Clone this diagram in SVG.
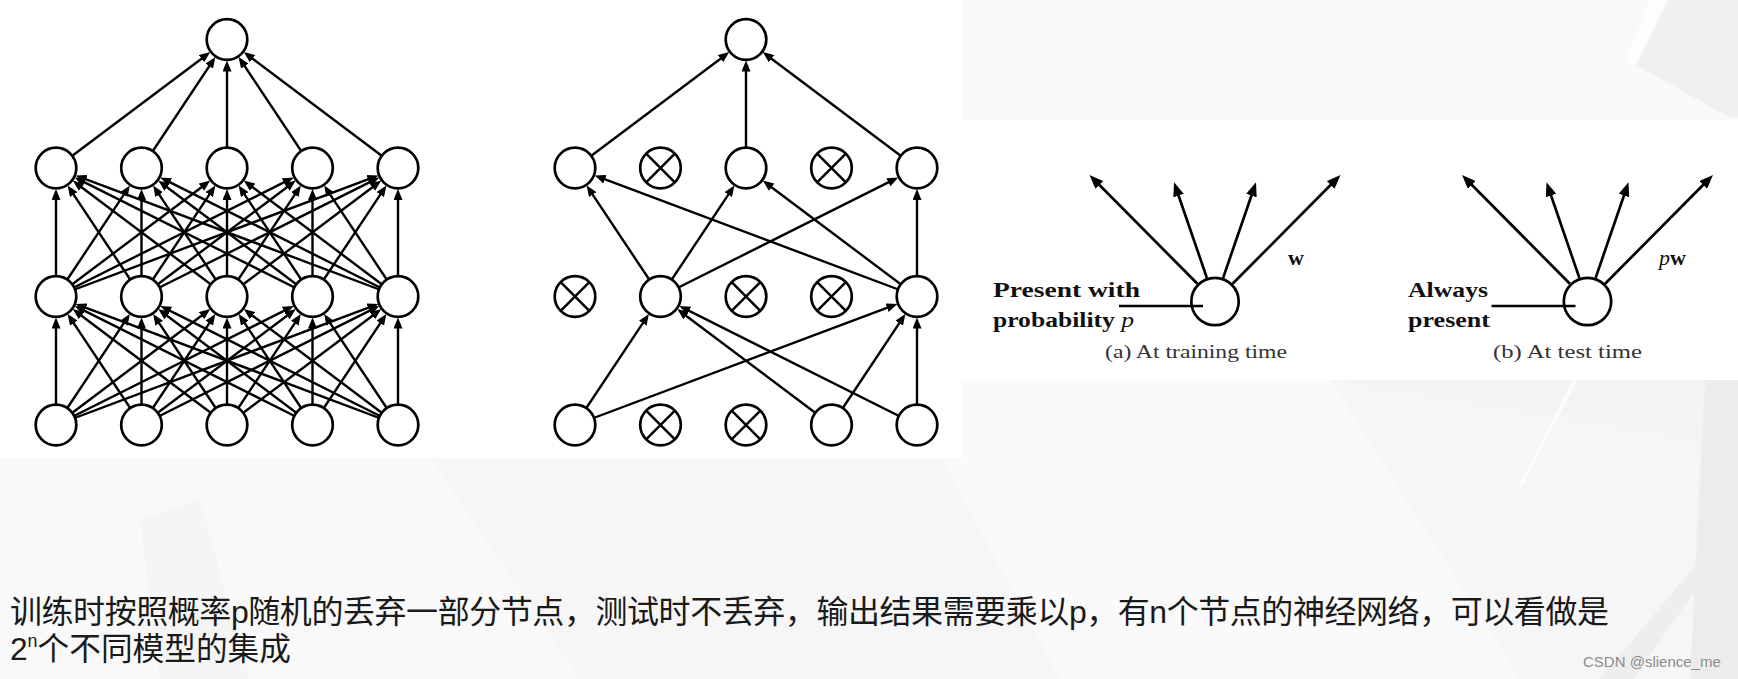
<svg xmlns="http://www.w3.org/2000/svg" width="1738" height="679" viewBox="0 0 1738 679">
<style>
.n{fill:#fff;stroke:#000;stroke-width:2.7}
.pc{fill:none;stroke:#000;stroke-width:2.7}
.x{stroke:#000;stroke-width:2.5}
.e{stroke:#000;stroke-width:2.4;marker-end:url(#ah)}
.pa{stroke:#000;stroke-width:2.7;marker-end:url(#ahb)}
.pl{stroke:#000;stroke-width:2.7}
.bd{font-family:'Liberation Serif',serif;font-weight:bold;font-size:22px;fill:#111}
.it{font-style:italic;font-weight:normal}
.cap{font-family:'Liberation Serif',serif;font-size:18.5px;fill:#333}
.zh{font-family:'Liberation Sans','Noto Sans CJK SC',sans-serif;font-size:32px;fill:#1a1a1a}
.wm{font-family:'Liberation Sans',sans-serif;font-size:15px;fill:#8c8c8c}
</style>
<defs>
<marker id="ah" markerUnits="userSpaceOnUse" markerWidth="11" markerHeight="9" viewBox="0 0 11 9" refX="5.5" refY="4.5" orient="auto"><path d="M0,0 L11,4.5 L0,9 z" fill="#000"/></marker>
<marker id="ahb" markerUnits="userSpaceOnUse" markerWidth="14" markerHeight="11" viewBox="0 0 14 11" refX="8" refY="5.5" orient="auto"><path d="M0,0 L14,5.5 L0,11 z" fill="#000"/></marker>
</defs>

<g id="background">
<rect width="1738" height="679" fill="#f6f6f6"/>
<polygon points="0,458 430,458 580,679 0,679" fill="#f9f9f9"/>
<polygon points="140,520 200,500 250,679 160,679" fill="#f5f5f5"/>
<polygon points="900,380 1330,380 1520,679 1060,679" fill="#fafafa"/>
<polygon points="1330,380 1738,380 1738,679 1690,679 1700,440" fill="#f4f4f4"/>
<polygon points="1705,380 1738,380 1738,679 1690,679" fill="#ececec"/>
<polygon points="1573,380 1577,380 1522,487 1518,487" fill="#fdfdfd"/>
<polygon points="1600,679 1700,560 1716,560 1634,679" fill="#eeeeee"/>
<rect x="962" y="0" width="776" height="120" fill="#f9f9f9"/>
<polygon points="1668,0 1738,0 1738,117 1729,117 1636,65" fill="#f0f0f0"/>
<polygon points="1650,0 1668,0 1636,65 1625,60" fill="#fdfdfd"/>
<rect x="0" y="0" width="962" height="458" fill="#fff"/>
<rect x="962" y="120" width="776" height="260" fill="#fff"/>
</g>

<g id="connectors">
<!-- network 1: input -> hidden1 -->
<line class="e" x1="56" y1="425" x2="56" y2="323"/>
<line class="e" x1="141.5" y1="425" x2="70.68" y2="318.56"/>
<line class="e" x1="227" y1="425" x2="77.18" y2="312.42"/>
<line class="e" x1="312.5" y1="425" x2="79.69" y2="308.37"/>
<line class="e" x1="398" y1="425" x2="80.81" y2="305.82"/>
<line class="e" x1="56" y1="425" x2="126.82" y2="318.56"/>
<line class="e" x1="141.5" y1="425" x2="141.5" y2="323"/>
<line class="e" x1="227" y1="425" x2="156.18" y2="318.56"/>
<line class="e" x1="312.5" y1="425" x2="162.68" y2="312.42"/>
<line class="e" x1="398" y1="425" x2="165.19" y2="308.37"/>
<line class="e" x1="56" y1="425" x2="205.82" y2="312.42"/>
<line class="e" x1="141.5" y1="425" x2="212.32" y2="318.56"/>
<line class="e" x1="227" y1="425" x2="227" y2="323"/>
<line class="e" x1="312.5" y1="425" x2="241.68" y2="318.56"/>
<line class="e" x1="398" y1="425" x2="248.18" y2="312.42"/>
<line class="e" x1="56" y1="425" x2="288.81" y2="308.37"/>
<line class="e" x1="141.5" y1="425" x2="291.32" y2="312.42"/>
<line class="e" x1="227" y1="425" x2="297.82" y2="318.56"/>
<line class="e" x1="312.5" y1="425" x2="312.5" y2="323"/>
<line class="e" x1="398" y1="425" x2="327.18" y2="318.56"/>
<line class="e" x1="56" y1="425" x2="373.19" y2="305.82"/>
<line class="e" x1="141.5" y1="425" x2="374.31" y2="308.37"/>
<line class="e" x1="227" y1="425" x2="376.82" y2="312.42"/>
<line class="e" x1="312.5" y1="425" x2="383.32" y2="318.56"/>
<line class="e" x1="398" y1="425" x2="398" y2="323"/>
<!-- network 1: hidden1 -> hidden2 -->
<line class="e" x1="56" y1="296.5" x2="56" y2="194.5"/>
<line class="e" x1="141.5" y1="296.5" x2="70.68" y2="190.06"/>
<line class="e" x1="227" y1="296.5" x2="77.18" y2="183.92"/>
<line class="e" x1="312.5" y1="296.5" x2="79.69" y2="179.87"/>
<line class="e" x1="398" y1="296.5" x2="80.81" y2="177.32"/>
<line class="e" x1="56" y1="296.5" x2="126.82" y2="190.06"/>
<line class="e" x1="141.5" y1="296.5" x2="141.5" y2="194.5"/>
<line class="e" x1="227" y1="296.5" x2="156.18" y2="190.06"/>
<line class="e" x1="312.5" y1="296.5" x2="162.68" y2="183.92"/>
<line class="e" x1="398" y1="296.5" x2="165.19" y2="179.87"/>
<line class="e" x1="56" y1="296.5" x2="205.82" y2="183.92"/>
<line class="e" x1="141.5" y1="296.5" x2="212.32" y2="190.06"/>
<line class="e" x1="227" y1="296.5" x2="227" y2="194.5"/>
<line class="e" x1="312.5" y1="296.5" x2="241.68" y2="190.06"/>
<line class="e" x1="398" y1="296.5" x2="248.18" y2="183.92"/>
<line class="e" x1="56" y1="296.5" x2="288.81" y2="179.87"/>
<line class="e" x1="141.5" y1="296.5" x2="291.32" y2="183.92"/>
<line class="e" x1="227" y1="296.5" x2="297.82" y2="190.06"/>
<line class="e" x1="312.5" y1="296.5" x2="312.5" y2="194.5"/>
<line class="e" x1="398" y1="296.5" x2="327.18" y2="190.06"/>
<line class="e" x1="56" y1="296.5" x2="373.19" y2="177.32"/>
<line class="e" x1="141.5" y1="296.5" x2="374.31" y2="179.87"/>
<line class="e" x1="227" y1="296.5" x2="376.82" y2="183.92"/>
<line class="e" x1="312.5" y1="296.5" x2="383.32" y2="190.06"/>
<line class="e" x1="398" y1="296.5" x2="398" y2="194.5"/>
<!-- network 1: hidden2 -> output -->
<line class="e" x1="56" y1="168" x2="205.82" y2="55.42"/>
<line class="e" x1="141.5" y1="168" x2="212.32" y2="61.56"/>
<line class="e" x1="227" y1="168" x2="227" y2="66"/>
<line class="e" x1="312.5" y1="168" x2="241.68" y2="61.56"/>
<line class="e" x1="398" y1="168" x2="248.18" y2="55.42"/>
<!-- network 2 (dropout) -->
<line class="e" x1="575" y1="168" x2="724.82" y2="55.42"/>
<line class="e" x1="746" y1="168" x2="746" y2="66"/>
<line class="e" x1="917" y1="168" x2="767.18" y2="55.42"/>
<line class="e" x1="660.5" y1="296.5" x2="589.68" y2="190.06"/>
<line class="e" x1="660.5" y1="296.5" x2="731.32" y2="190.06"/>
<line class="e" x1="660.5" y1="296.5" x2="893.31" y2="179.87"/>
<line class="e" x1="917" y1="296.5" x2="599.81" y2="177.32"/>
<line class="e" x1="917" y1="296.5" x2="767.18" y2="183.92"/>
<line class="e" x1="917" y1="296.5" x2="917" y2="194.5"/>
<line class="e" x1="575" y1="425" x2="645.82" y2="318.56"/>
<line class="e" x1="575" y1="425" x2="892.19" y2="305.82"/>
<line class="e" x1="831.5" y1="425" x2="681.68" y2="312.42"/>
<line class="e" x1="831.5" y1="425" x2="902.32" y2="318.56"/>
<line class="e" x1="917" y1="425" x2="684.19" y2="308.37"/>
<line class="e" x1="917" y1="425" x2="917" y2="323"/>
<!-- panel (a) -->
<line class="pa" x1="1197.39" y1="283.75" x2="1093.73" y2="179.26"/>
<line class="pa" x1="1206.87" y1="277.86" x2="1175.95" y2="187.97"/>
<line class="pa" x1="1223.13" y1="277.86" x2="1254.05" y2="187.97"/>
<line class="pa" x1="1232.61" y1="283.75" x2="1336.27" y2="179.26"/>
<line class="pl" x1="1119" y1="306" x2="1203" y2="306"/>
<!-- panel (b) -->
<line class="pa" x1="1569.89" y1="283.75" x2="1466.23" y2="179.26"/>
<line class="pa" x1="1579.37" y1="277.86" x2="1548.45" y2="187.97"/>
<line class="pa" x1="1595.63" y1="277.86" x2="1626.55" y2="187.97"/>
<line class="pa" x1="1605.11" y1="283.75" x2="1708.77" y2="179.26"/>
<line class="pl" x1="1491.5" y1="306" x2="1575.5" y2="306"/>
</g>

<!-- network 1 nodes -->
<g id="n1-out"><circle class="n" cx="227" cy="39.5" r="20.3"/></g>
<g id="n1-h2-0"><circle class="n" cx="56" cy="168" r="20.3"/></g>
<g id="n1-h2-1"><circle class="n" cx="141.5" cy="168" r="20.3"/></g>
<g id="n1-h2-2"><circle class="n" cx="227" cy="168" r="20.3"/></g>
<g id="n1-h2-3"><circle class="n" cx="312.5" cy="168" r="20.3"/></g>
<g id="n1-h2-4"><circle class="n" cx="398" cy="168" r="20.3"/></g>
<g id="n1-h1-0"><circle class="n" cx="56" cy="296.5" r="20.3"/></g>
<g id="n1-h1-1"><circle class="n" cx="141.5" cy="296.5" r="20.3"/></g>
<g id="n1-h1-2"><circle class="n" cx="227" cy="296.5" r="20.3"/></g>
<g id="n1-h1-3"><circle class="n" cx="312.5" cy="296.5" r="20.3"/></g>
<g id="n1-h1-4"><circle class="n" cx="398" cy="296.5" r="20.3"/></g>
<g id="n1-in-0"><circle class="n" cx="56" cy="425" r="20.3"/></g>
<g id="n1-in-1"><circle class="n" cx="141.5" cy="425" r="20.3"/></g>
<g id="n1-in-2"><circle class="n" cx="227" cy="425" r="20.3"/></g>
<g id="n1-in-3"><circle class="n" cx="312.5" cy="425" r="20.3"/></g>
<g id="n1-in-4"><circle class="n" cx="398" cy="425" r="20.3"/></g>

<!-- network 2 nodes -->
<g id="n2-out"><circle class="n" cx="746" cy="39.5" r="20.3"/></g>
<g id="n2-h2-0"><circle class="n" cx="575" cy="168" r="20.3"/></g>
<g id="n2-h2-1"><circle class="n" cx="660.5" cy="168" r="20.3"/><path class="x" d="M646.15,153.65 L674.85,182.35 M674.85,153.65 L646.15,182.35"/></g>
<g id="n2-h2-2"><circle class="n" cx="746" cy="168" r="20.3"/></g>
<g id="n2-h2-3"><circle class="n" cx="831.5" cy="168" r="20.3"/><path class="x" d="M817.15,153.65 L845.85,182.35 M845.85,153.65 L817.15,182.35"/></g>
<g id="n2-h2-4"><circle class="n" cx="917" cy="168" r="20.3"/></g>
<g id="n2-h1-0"><circle class="n" cx="575" cy="296.5" r="20.3"/><path class="x" d="M560.65,282.15 L589.35,310.85 M589.35,282.15 L560.65,310.85"/></g>
<g id="n2-h1-1"><circle class="n" cx="660.5" cy="296.5" r="20.3"/></g>
<g id="n2-h1-2"><circle class="n" cx="746" cy="296.5" r="20.3"/><path class="x" d="M731.65,282.15 L760.35,310.85 M760.35,282.15 L731.65,310.85"/></g>
<g id="n2-h1-3"><circle class="n" cx="831.5" cy="296.5" r="20.3"/><path class="x" d="M817.15,282.15 L845.85,310.85 M845.85,282.15 L817.15,310.85"/></g>
<g id="n2-h1-4"><circle class="n" cx="917" cy="296.5" r="20.3"/></g>
<g id="n2-in-0"><circle class="n" cx="575" cy="425" r="20.3"/></g>
<g id="n2-in-1"><circle class="n" cx="660.5" cy="425" r="20.3"/><path class="x" d="M646.15,410.65 L674.85,439.35 M674.85,410.65 L646.15,439.35"/></g>
<g id="n2-in-2"><circle class="n" cx="746" cy="425" r="20.3"/><path class="x" d="M731.65,410.65 L760.35,439.35 M760.35,410.65 L731.65,439.35"/></g>
<g id="n2-in-3"><circle class="n" cx="831.5" cy="425" r="20.3"/></g>
<g id="n2-in-4"><circle class="n" cx="917" cy="425" r="20.3"/></g>

<!-- panel (a) -->
<g id="pa-unit">
<circle class="pc" cx="1215" cy="301.5" r="23.7"/>
<text class="bd" x="1288" y="265">w</text>
<text class="bd" x="993" y="296.7" textLength="147" lengthAdjust="spacingAndGlyphs">Present with</text>
<text class="bd" x="993" y="326.7" textLength="141" lengthAdjust="spacingAndGlyphs">probability <tspan class="it">p</tspan></text>
<text class="cap" x="1105" y="357.5" textLength="182" lengthAdjust="spacingAndGlyphs">(a) At training time</text>
</g>

<!-- panel (b) -->
<g id="pb-unit">
<circle class="pc" cx="1587.5" cy="301.5" r="23.7"/>
<text class="bd" x="1659" y="265"><tspan class="it">p</tspan>w</text>
<text class="bd" x="1408" y="296.7" textLength="80" lengthAdjust="spacingAndGlyphs">Always</text>
<text class="bd" x="1408" y="326.7" textLength="82" lengthAdjust="spacingAndGlyphs">present</text>
<text class="cap" x="1493" y="357.5" textLength="149" lengthAdjust="spacingAndGlyphs">(b) At test time</text>
</g>

<g id="caption">
<text class="zh" x="10" y="623" textLength="1599">训练时按照概率p随机的丢弃一部分节点，测试时不丢弃，输出结果需要乘以p，有n个节点的神经网络，可以看做是</text>
<text class="zh" x="10" y="660" textLength="281" lengthAdjust="spacingAndGlyphs">2<tspan font-size="18" dy="-13">n</tspan><tspan dy="13">个不同模型的集成</tspan></text>
</g>

<g id="watermark">
<text class="wm" x="1583" y="667">CSDN @slience_me</text>
</g>
</svg>
